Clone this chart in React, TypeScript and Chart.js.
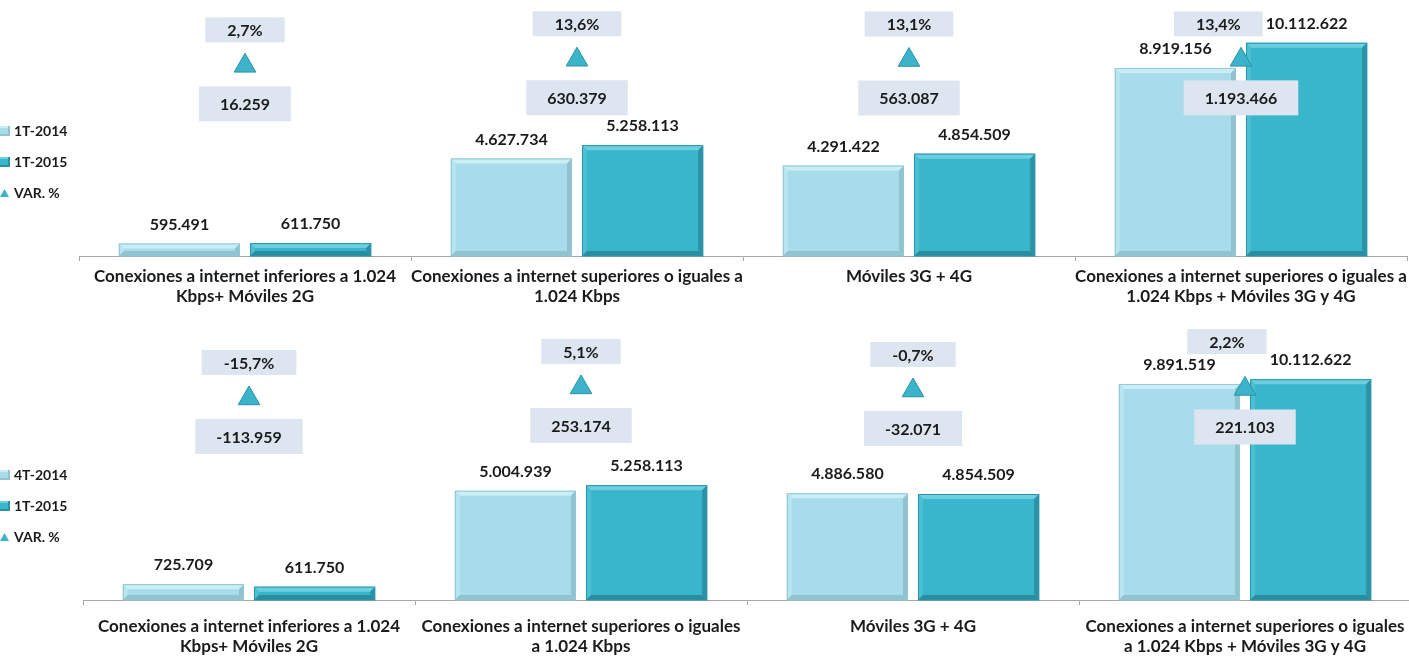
import React, { useEffect, useRef } from "react";
import { Chart, registerables } from "chart.js";

Chart.register(...registerables);

// ---------- DATA ----------
const categoriesTop: (string | string[])[] = [
  ["Conexiones a internet inferiores a 1.024", "Kbps+ Móviles 2G"],
  ["Conexiones a internet superiores o iguales a", "1.024 Kbps"],
  "Móviles 3G + 4G",
  ["Conexiones a internet superiores o iguales a", "1.024 Kbps + Móviles 3G y 4G"],
];
const categoriesBottom: (string | string[])[] = [
  ["Conexiones a internet inferiores a 1.024", "Kbps+ Móviles 2G"],
  ["Conexiones a internet superiores o iguales", "a 1.024 Kbps"],
  "Móviles 3G + 4G",
  ["Conexiones a internet superiores o iguales", "a 1.024 Kbps + Móviles 3G y 4G"],
];

const seriesLabelsTop = ["1T-2014", "1T-2015", "VAR. %"];
const seriesLabelsBottom = ["4T-2014", "1T-2015", "VAR. %"];

const top1T2014 = [595491, 4627734, 4291422, 8919156];
const top1T2015 = [611750, 5258113, 4854509, 10112622];
const topVarPct = [2.7, 13.6, 13.1, 13.4];
const topVarAbs = [16259, 630379, 563087, 1193466];

const bottom4T2014 = [725709, 5004939, 4886580, 9891519];
const bottom1T2015 = [611750, 5258113, 4854509, 10112622];
const bottomVarPct = [-15.7, 5.1, -0.7, 2.2];
const bottomVarAbs = [-113959, 253174, -32071, 221103];

// ---------- STYLE ----------
const FONT = "Lato";
const TEXT = "#1b1b1b";
const AXIS = "#a6a6a6";
const BOX = "#dde5f0";
const LIGHT = {
  face: "#a8dcea",
  top: "#c9eef6",
  left: "#b8e5ef",
  right: "#8fc3d0",
  bottom: "#90c4d1",
  outline: "#93c7d4",
};
const DARK = {
  face: "#39b5cc",
  top: "#6ccfe0",
  left: "#4bbfd3",
  right: "#2a93a7",
  bottom: "#2a8ea2",
  outline: "#2b95a9",
};
const TRI = { fill: "#3bb4ca", border: "#2a93a7" };

const fmtInt = (n: number) => {
  const s = Math.abs(n)
    .toString()
    .replace(/\B(?=(\d{3})+(?!\d))/g, ".");
  return (n < 0 ? "-" : "") + s;
};
const fmtPct = (p: number) => p.toFixed(1).replace(".", ",") + "%";

// ---------- PLUGINS ----------
const bevelPlugin = {
  id: "bevel",
  afterDatasetDraw(chart: any, args: any) {
    const ds = chart.data.datasets[args.index];
    if (!ds.bevel) return;
    const meta = chart.getDatasetMeta(args.index);
    const ctx = chart.ctx;
    const c = ds.bevel;
    const b = 5;
    ctx.save();
    meta.data.forEach((el: any) => {
      const l = el.x - el.width / 2;
      const r = el.x + el.width / 2;
      const t = el.y;
      const bt = el.base;
      const h = bt - t;
      const bb = Math.min(b, h / 2);
      const poly = (pts: number[][], col: string) => {
        ctx.beginPath();
        ctx.moveTo(pts[0][0], pts[0][1]);
        for (let i = 1; i < pts.length; i++) ctx.lineTo(pts[i][0], pts[i][1]);
        ctx.closePath();
        ctx.fillStyle = col;
        ctx.fill();
      };
      poly([[l, t], [r, t], [r - bb, t + bb], [l + bb, t + bb]], c.top);
      poly([[l, t], [l + bb, t + bb], [l + bb, bt - bb], [l, bt]], c.left);
      poly([[r, t], [r, bt], [r - bb, bt - bb], [r - bb, t + bb]], c.right);
      poly([[l, bt], [l + bb, bt - bb], [r - bb, bt - bb], [r, bt]], c.bottom);
      ctx.strokeStyle = c.outline;
      ctx.lineWidth = 1;
      ctx.strokeRect(l + 0.5, t + 0.5, r - l - 1, h - 0.5);
    });
    ctx.restore();
  },
};

type Rect = { l: number; t: number; r: number; b: number; cx: number };
const overlaps = (a: Rect, b: Rect) => a.l < b.r && a.r > b.l && a.t < b.b && a.b > b.t;

const labelPlugin = {
  id: "labels",
  afterDatasetsDraw(chart: any) {
    const ctx = chart.ctx;
    const opts = chart.options.plugins.labels;
    ctx.save();
    ctx.textAlign = "center";
    ctx.textBaseline = "middle";
    ctx.font = `bold 16px ${FONT}`;
    // value labels above bars
    const valueRects: Rect[][] = [];
    chart.data.datasets.forEach((ds: any, i: number) => {
      if (ds.type !== "bar") return;
      const meta = chart.getDatasetMeta(i);
      meta.data.forEach((el: any, j: number) => {
        const txt = fmtInt(ds.data[j]);
        const cy = el.y - 19;
        ctx.fillStyle = TEXT;
        ctx.fillText(txt, el.x, cy);
        const w = ctx.measureText(txt).width;
        (valueRects[j] = valueRects[j] || []).push({
          l: el.x - w / 2,
          r: el.x + w / 2,
          t: cy - 8,
          b: cy + 8,
          cx: el.x,
        });
      });
    });
    // variation boxes around triangles
    const triIndex = chart.data.datasets.findIndex((d: any) => d.type === "line");
    const meta = chart.getDatasetMeta(triIndex);
    meta.data.forEach((el: any, j: number) => {
      const pctText = fmtPct(opts.pct[j]);
      const absText = fmtInt(opts.abs[j]);
      const w1 = ctx.measureText(pctText).width + 44;
      const h1 = 25;
      const box: Rect = {
        l: el.x - w1 / 2,
        r: el.x + w1 / 2,
        t: el.y - 36 - h1 / 2,
        b: el.y - 36 + h1 / 2,
        cx: el.x,
      };
      const rects = valueRects[j] || [];
      // dodge labels to the right by moving left
      rects.forEach((r) => {
        if (r.cx > el.x && overlaps(box, r)) {
          box.r = r.l - 3;
          box.l = box.r - w1;
        }
      });
      // dodge remaining labels by moving up
      rects.forEach((r) => {
        if (overlaps(box, r)) {
          box.b = r.t - 3;
          box.t = box.b - h1;
        }
      });
      ctx.fillStyle = BOX;
      ctx.fillRect(box.l, box.t, w1, h1);
      ctx.fillStyle = TEXT;
      ctx.fillText(pctText, (box.l + box.r) / 2, (box.t + box.b) / 2 + 1);

      const w2 = ctx.measureText(absText).width + 42;
      const h2 = 35;
      const cy2 = el.y + 38;
      ctx.fillStyle = BOX;
      ctx.fillRect(el.x - w2 / 2, cy2 - h2 / 2, w2, h2);
      ctx.fillStyle = TEXT;
      ctx.fillText(absText, el.x, cy2 + 1);
    });
    ctx.restore();
  },
};

const legendPlugin = {
  id: "sideLegend",
  afterDraw(chart: any) {
    const ctx = chart.ctx;
    const base = chart.chartArea.bottom;
    const rows = [base - 125, base - 94, base - 63];
    ctx.save();
    ctx.font = `bold 14px ${FONT}`;
    ctx.textBaseline = "middle";
    ctx.textAlign = "left";
    chart.data.datasets.forEach((ds: any, i: number) => {
      const y = rows[i];
      if (ds.type === "bar") {
        const c = ds.bevel;
        ctx.fillStyle = c.face;
        ctx.fillRect(0, y - 5, 10, 10);
        ctx.fillStyle = c.top;
        ctx.fillRect(0, y - 5, 10, 2);
        ctx.fillStyle = c.bottom;
        ctx.fillRect(0, y + 3, 10, 2);
        ctx.fillStyle = c.right;
        ctx.fillRect(8, y - 5, 2, 10);
      } else {
        ctx.beginPath();
        ctx.moveTo(4.5, y - 4);
        ctx.lineTo(9, y + 4);
        ctx.lineTo(0, y + 4);
        ctx.closePath();
        ctx.fillStyle = TRI.fill;
        ctx.fill();
      }
      ctx.fillStyle = TEXT;
      ctx.fillText(ds.label, 14, y);
    });
    ctx.restore();
  },
};

// ---------- CONFIG ----------
type PanelSpec = {
  categories: (string | string[])[];
  labels: string[];
  a: number[];
  b: number[];
  pct: number[];
  abs: number[];
  padLeft: number;
  padTop: number;
  axisHeight: number;
  tickPadding: number;
  pctMin: number;
  pctMax: number;
};

function makeConfig(p: PanelSpec): any {
  return {
    type: "bar",
    data: {
      labels: p.categories,
      datasets: [
        {
          type: "bar",
          label: p.labels[0],
          data: p.a,
          backgroundColor: LIGHT.face,
          borderWidth: 0,
          yAxisID: "y",
          order: 2,
          categoryPercentage: 0.79,
          barPercentage: 0.924,
          bevel: LIGHT,
        },
        {
          type: "bar",
          label: p.labels[1],
          data: p.b,
          backgroundColor: DARK.face,
          borderWidth: 0,
          yAxisID: "y",
          order: 2,
          categoryPercentage: 0.79,
          barPercentage: 0.924,
          bevel: DARK,
        },
        {
          type: "line",
          label: p.labels[2],
          data: p.pct,
          yAxisID: "y1",
          showLine: false,
          pointStyle: "triangle",
          pointRadius: 12.5,
          pointBackgroundColor: TRI.fill,
          pointBorderColor: TRI.border,
          pointBorderWidth: 1,
          order: 1,
          clip: false,
        },
      ],
    },
    options: {
      responsive: false,
      animation: false,
      layout: {
        autoPadding: false,
        padding: { left: p.padLeft, right: 2, top: p.padTop, bottom: 0 },
      },
      plugins: {
        legend: { display: false },
        tooltip: { enabled: false },
        labels: { pct: p.pct, abs: p.abs },
      },
      scales: {
        x: {
          offset: true,
          grid: {
            offset: true,
            drawOnChartArea: false,
            drawTicks: true,
            tickLength: 5,
            color: AXIS,
          },
          border: { display: true, color: AXIS, width: 1 },
          ticks: {
            color: TEXT,
            font: { family: FONT, weight: "bold", size: 17, lineHeight: 20 / 17 },
            padding: p.tickPadding,
            maxRotation: 0,
            minRotation: 0,
            autoSkip: false,
          },
          afterFit: (s: any) => {
            s.height = p.axisHeight;
            s.paddingLeft = 0;
            s.paddingRight = 0;
          },
        },
        y: { display: false, min: 0, max: 12000000 },
        y1: { display: false, min: p.pctMin, max: p.pctMax },
      },
    },
    plugins: [bevelPlugin, labelPlugin, legendPlugin],
  };
}

const topSpec: PanelSpec = {
  categories: categoriesTop,
  labels: seriesLabelsTop,
  a: top1T2014,
  b: top1T2015,
  pct: topVarPct,
  abs: topVarAbs,
  padLeft: 79,
  padTop: 3,
  axisHeight: 54,
  tickPadding: 6,
  pctMin: -337,
  pctMax: 115,
};

const bottomSpec: PanelSpec = {
  categories: categoriesBottom,
  labels: seriesLabelsBottom,
  a: bottom4T2014,
  b: bottom1T2015,
  pct: bottomVarPct,
  abs: bottomVarAbs,
  padLeft: 83,
  padTop: 28,
  axisHeight: 57,
  tickPadding: 12,
  pctMin: -396,
  pctMax: 98.4,
};

function Panel({ spec, width, height, top }: { spec: PanelSpec; width: number; height: number; top: number }) {
  const ref = useRef<HTMLCanvasElement>(null);
  useEffect(() => {
    const chart = new Chart(ref.current as HTMLCanvasElement, makeConfig(spec));
    return () => chart.destroy();
  }, [spec]);
  return (
    <canvas
      ref={ref}
      width={width}
      height={height}
      style={{ position: "absolute", left: 0, top, width, height }}
    />
  );
}

export default function App() {
  return (
    <div
      style={{
        position: "fixed",
        left: 0,
        top: 0,
        width: 1409,
        height: 657,
        overflow: "hidden",
        background: "#ffffff",
      }}
    >
      <Panel spec={topSpec} width={1409} height={310} top={0} />
      <Panel spec={bottomSpec} width={1413} height={347} top={310} />
    </div>
  );
}
